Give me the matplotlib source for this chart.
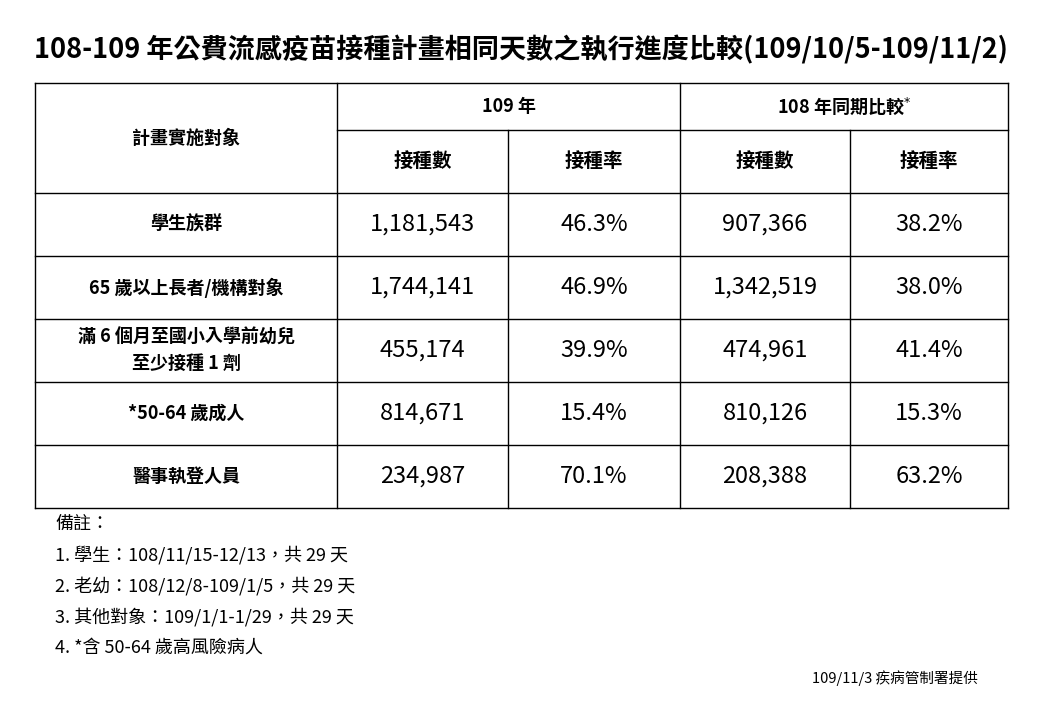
import matplotlib
matplotlib.use("Agg")
import matplotlib.pyplot as plt

plt.rcParams['font.family'] = ['Noto Sans CJK TC', 'DejaVu Sans']

title = "108-109 年公費流感疫苗接種計畫相同天數之執行進度比較(109/10/5-109/11/2)"
groups = ["學生族群", "65 歲以上長者/機構對象", "滿 6 個月至國小入學前幼兒\n至少接種 1 劑", "*50-64 歲成人", "醫事執登人員"]
count_109 = ["1,181,543", "1,744,141", "455,174", "814,671", "234,987"]
rate_109 = ["46.3%", "46.9%", "39.9%", "15.4%", "70.1%"]
count_108 = ["907,366", "1,342,519", "474,961", "810,126", "208,388"]
rate_108 = ["38.2%", "38.0%", "41.4%", "15.3%", "63.2%"]
notes = ["備註：", "1. 學生：108/11/15-12/13，共 29 天", "2. 老幼：108/12/8-109/1/5，共 29 天",
         "3. 其他對象：109/1/1-1/29，共 29 天", "4. *含 50-64 歲高風險病人"]
footer = "109/11/3 疾病管制署提供"

fig = plt.figure(figsize=(10.48, 7.05), dpi=100)
ax = fig.add_axes([0, 0, 1, 1])
ax.set_xlim(0, 1048); ax.set_ylim(705, 0); ax.axis('off')

xs = [35, 337, 508, 680, 850, 1008]
ys = [83, 130, 193, 256, 319, 382, 445, 508]
lw = 1.0
ax.text(521, 50, title, ha='center', va='center', fontsize=19.5, fontweight='bold')
ax.plot([xs[0], xs[-1]], [ys[0], ys[0]], 'k-', lw=lw)
ax.plot([xs[1], xs[-1]], [ys[1], ys[1]], 'k-', lw=lw)
for y in ys[2:]:
    ax.plot([xs[0], xs[-1]], [y, y], 'k-', lw=lw)
for i, x in enumerate(xs):
    if i in (2, 4):
        ax.plot([x, x], [ys[1], ys[-1]], 'k-', lw=lw)
    else:
        ax.plot([x, x], [ys[0], ys[-1]], 'k-', lw=lw)

ax.text((xs[0]+xs[1])/2, (ys[0]+ys[2])/2, "計畫實施對象", ha='center', va='center', fontsize=13, fontweight='bold')
ax.text((xs[1]+xs[3])/2, (ys[0]+ys[1])/2, "109 年", ha='center', va='center', fontsize=13, fontweight='bold')
ax.text((xs[3]+xs[5])/2, (ys[0]+ys[1])/2, "108 年同期比較$^{*}$", ha='center', va='center', fontsize=13, fontweight='bold')
for j, h in enumerate(["接種數", "接種率", "接種數", "接種率"]):
    ax.text((xs[j+1]+xs[j+2])/2, (ys[1]+ys[2])/2, h, ha='center', va='center', fontsize=14, fontweight='bold')

cols = [count_109, rate_109, count_108, rate_108]
for i, g in enumerate(groups):
    yc = (ys[i+2]+ys[i+3])/2
    ax.text((xs[0]+xs[1])/2, yc, g, ha='center', va='center', fontsize=13, fontweight='bold', linespacing=1.5)
    for j, col in enumerate(cols):
        ax.text((xs[j+1]+xs[j+2])/2, yc, col[i], ha='center', va='center', fontsize=17)

for k, n in enumerate(notes):
    ax.text(55, 524 + k*31, n, ha='left', va='center', fontsize=13)
ax.text(978, 678, footer, ha='right', va='center', fontsize=10.5)

fig.savefig("out.png", dpi=100)
